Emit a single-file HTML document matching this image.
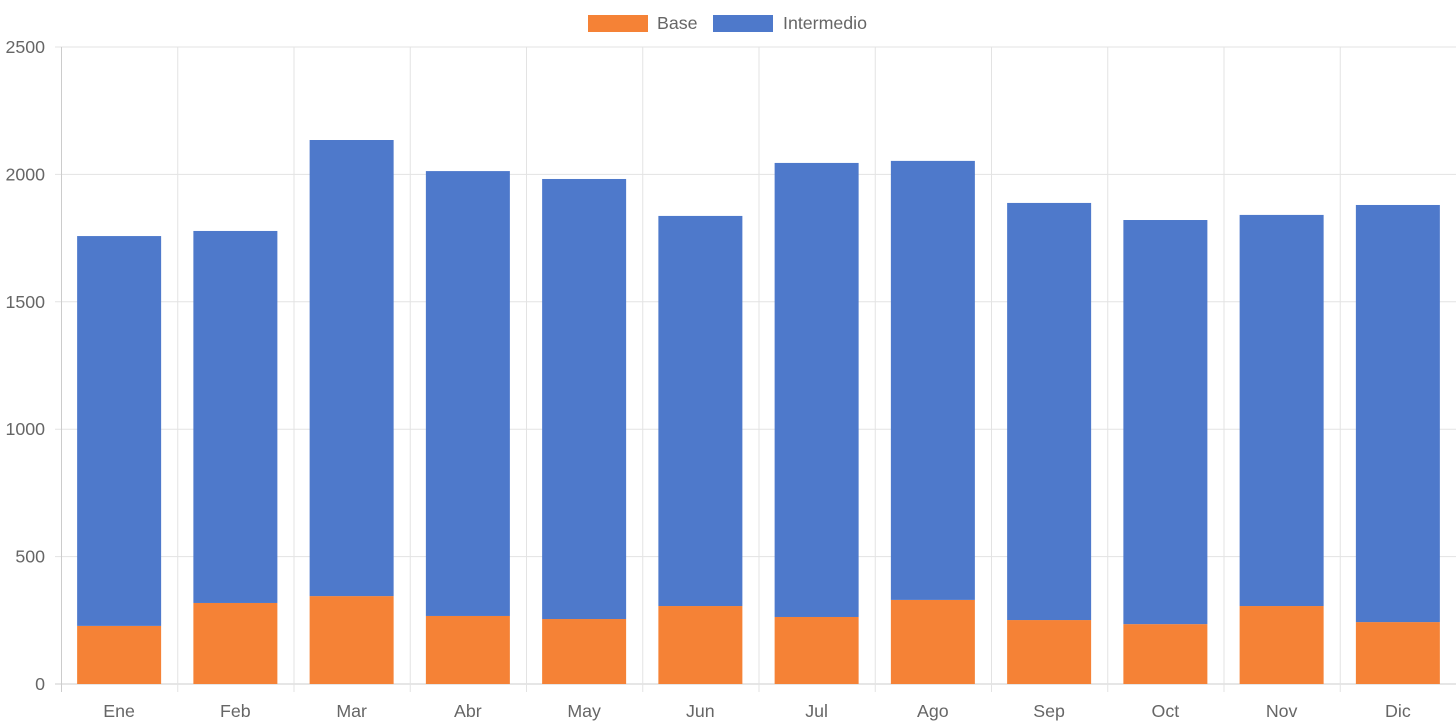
<!DOCTYPE html>
<html><head><meta charset="utf-8"><style>
body{margin:0;background:#fff;font-family:"Liberation Sans",sans-serif;}
svg{display:block}
</style></head><body>
<svg id="chart" width="1456" height="727">
<g id="legend">
<rect x="588" y="15" width="60" height="17" fill="#f58236"/>
<text x="657" y="29" font-size="17.8" fill="#666">Base</text>
<rect x="713" y="15" width="60" height="17" fill="#4e79cb"/>
<text x="783" y="29" font-size="17.8" fill="#666">Intermedio</text>
</g>
<g id="grid"></g><g id="bars"></g><g id="axes"></g>
</svg>
<script>
const categories=["Ene","Feb","Mar","Abr","May","Jun","Jul","Ago","Sep","Oct","Nov","Dic"];
const baseValues=[228,318,345,267,255,306,263,330,251,235,306,243];
const intermedioValues=[1530,1460,1790,1746,1727,1531,1782,1723,1637,1586,1535,1637];
const yTicks=[0,500,1000,1500,2000,2500];
const NS="http://www.w3.org/2000/svg";
const L=61,R=1456,T=47,B=684,yMax=2500;
const y=v=>B-(v/yMax)*(B-T);
const slot=(R-L)/categories.length;
const x=i=>L+i*slot;
function mk(tag,attrs,parent){const e=document.createElementNS(NS,tag);for(const k in attrs)e.setAttribute(k,attrs[k]);parent.appendChild(e);return e;}
const grid=document.getElementById('grid'),bars=document.getElementById('bars'),axes=document.getElementById('axes');
yTicks.forEach(t=>{
 const g=mk('line',{x1:L-6,x2:R,y1:y(t),y2:y(t),stroke:t===0?'#ccc':'#e3e3e3','stroke-width':1},grid);
 
 
 const tx=mk('text',{x:45,y:y(t)+6,'text-anchor':'end','font-size':17.8,fill:'#666'},axes);
 tx.textContent=t;
 
 
});
for(let i=0;i<=categories.length;i++){
 const gl=mk('line',{x1:x(i)+0.5,x2:x(i)+0.5,y1:T,y2:B+8,stroke:i===0?'#ccc':'#e3e3e3','stroke-width':1},grid);
 
 
}
const bw=84;
categories.forEach((c,i)=>{
 const cx=x(i)+slot/2;
 const b=baseValues[i],m=intermedioValues[i];
 const r1=mk('rect',{x:cx-bw/2,y:y(b),width:bw,height:B-y(b),fill:'#f58236'},bars);
 
 
 const r2=mk('rect',{x:cx-bw/2,y:y(b+m),width:bw,height:y(b)-y(b+m),fill:'#4e79cb'},bars);
 
 
 const tx=mk('text',{x:cx,y:717,'text-anchor':'middle','font-size':17.8,fill:'#666'},axes);
 tx.textContent=c;
 
 
});
</script>
</body></html>
